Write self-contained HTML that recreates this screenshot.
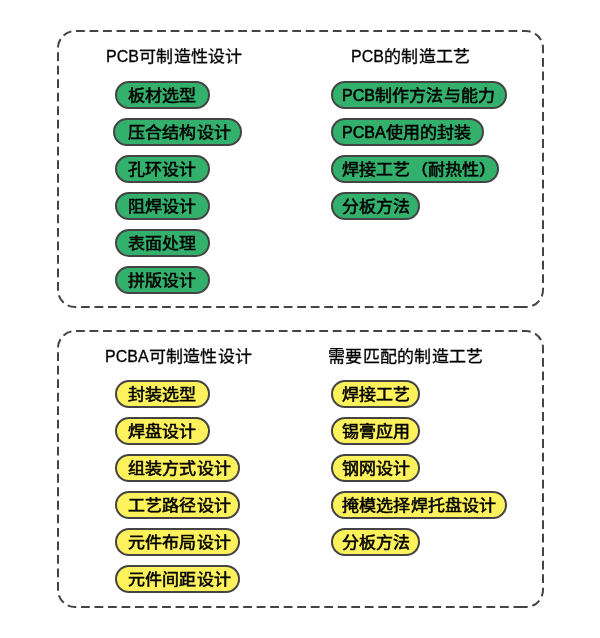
<!DOCTYPE html>
<html lang="zh-CN"><head><meta charset="utf-8">
<style>
html,body{margin:0;padding:0;background:#fff;width:600px;height:638px;overflow:hidden}
body{position:relative;font-family:"Liberation Sans",sans-serif;color:#000}
.t,.h{will-change:transform}
svg.bg{position:absolute;left:0;top:0}
.p{position:absolute;box-sizing:border-box;height:28px;border:2px solid #444;border-radius:14px}
.t,.h{position:absolute;font-size:17px;line-height:20px;white-space:nowrap;color:#000}
.t{-webkit-text-stroke:0.6px #000;font-weight:normal}
.h{-webkit-text-stroke:0.3px #000}
.l{font-size:16px}
.h .c{letter-spacing:0.3px;transform:scaleY(0.96)}
.c{display:inline-block;letter-spacing:0.16px;transform:scaleY(0.93);transform-origin:0 15px}
</style></head><body>
<svg class="bg" width="600" height="638" viewBox="0 0 600 638">
<path d="M522.25 307H75A17 17 0 0 1 58 290V48A17 17 0 0 1 75 31H526A17 17 0 0 1 543 48V290A17 17 0 0 1 526 307Z" fill="none" stroke="#444" stroke-width="2" stroke-dasharray="8.8 4.715"/>
<path d="M522.25 607H75A17 17 0 0 1 58 590V348A17 17 0 0 1 75 331H526A17 17 0 0 1 543 348V590A17 17 0 0 1 526 607Z" fill="none" stroke="#444" stroke-width="2" stroke-dasharray="8.8 4.715"/>
</svg>

<div class="h" style="left:106px;top:46.8px"><span class="l">PCB</span><span class="c">可制造性设计</span></div>
<div class="h" style="left:351px;top:46.8px"><span class="l">PCB</span><span class="c">的制造工艺</span></div>
<div class="h" style="left:105px;top:346.8px"><span class="l">PCBA</span><span class="c">可制造性设计</span></div>
<div class="h" style="left:327.5px;top:346.8px"><span class="c">需要匹配的制造工艺</span></div>
<div class="p" style="left:115.1px;top:80.8px;width:94.9px;background:#34b06d"></div>
<div class="t" style="left:127.8px;top:85.8px"><span class="c">板材选型</span></div>
<div class="p" style="left:113.4px;top:117.8px;width:129.0px;background:#34b06d"></div>
<div class="t" style="left:127.8px;top:122.8px"><span class="c">压合结构设计</span></div>
<div class="p" style="left:115.1px;top:154.8px;width:94.6px;background:#34b06d"></div>
<div class="t" style="left:127.8px;top:159.8px"><span class="c">孔环设计</span></div>
<div class="p" style="left:115.1px;top:191.8px;width:94.6px;background:#34b06d"></div>
<div class="t" style="left:127.8px;top:196.8px"><span class="c">阻焊设计</span></div>
<div class="p" style="left:115.1px;top:228.8px;width:94.6px;background:#34b06d"></div>
<div class="t" style="left:127.8px;top:233.8px"><span class="c">表面处理</span></div>
<div class="p" style="left:115.1px;top:265.8px;width:94.6px;background:#34b06d"></div>
<div class="t" style="left:127.8px;top:270.8px"><span class="c">拼版设计</span></div>
<div class="p" style="left:330.9px;top:80.8px;width:176.3px;background:#34b06d"></div>
<div class="t" style="left:341.5px;top:85.8px"><span class="l">PCB</span><span class="c">制作方法与能力</span></div>
<div class="p" style="left:330.9px;top:117.8px;width:153.2px;background:#34b06d"></div>
<div class="t" style="left:341.5px;top:122.8px"><span class="l">PCBA</span><span class="c">使用的封装</span></div>
<div class="p" style="left:330.9px;top:154.8px;width:168.5px;background:#34b06d"></div>
<div class="t" style="left:341.5px;top:159.8px"><span class="c">焊接工艺（耐热性）</span></div>
<div class="p" style="left:330.9px;top:191.8px;width:88.9px;background:#34b06d"></div>
<div class="t" style="left:341.5px;top:196.8px"><span class="c">分板方法</span></div>
<div class="p" style="left:115.1px;top:379.8px;width:94.9px;background:#fef25c"></div>
<div class="t" style="left:127.8px;top:384.8px"><span class="c">封装选型</span></div>
<div class="p" style="left:115.1px;top:416.8px;width:94.6px;background:#fef25c"></div>
<div class="t" style="left:127.8px;top:421.8px"><span class="c">焊盘设计</span></div>
<div class="p" style="left:115.1px;top:453.8px;width:125.4px;background:#fef25c"></div>
<div class="t" style="left:127.8px;top:458.8px"><span class="c">组装方式设计</span></div>
<div class="p" style="left:115.1px;top:490.8px;width:125.4px;background:#fef25c"></div>
<div class="t" style="left:127.8px;top:495.8px"><span class="c">工艺路径设计</span></div>
<div class="p" style="left:115.1px;top:527.8px;width:125.4px;background:#fef25c"></div>
<div class="t" style="left:127.8px;top:532.8px"><span class="c">元件布局设计</span></div>
<div class="p" style="left:115.1px;top:564.8px;width:125.4px;background:#fef25c"></div>
<div class="t" style="left:127.8px;top:569.8px"><span class="c">元件间距设计</span></div>
<div class="p" style="left:330.9px;top:379.8px;width:89.3px;background:#fef25c"></div>
<div class="t" style="left:341.5px;top:384.8px"><span class="c">焊接工艺</span></div>
<div class="p" style="left:330.9px;top:416.8px;width:89.3px;background:#fef25c"></div>
<div class="t" style="left:341.5px;top:421.8px"><span class="c">锡膏应用</span></div>
<div class="p" style="left:330.9px;top:453.8px;width:89.3px;background:#fef25c"></div>
<div class="t" style="left:341.5px;top:458.8px"><span class="c">钢网设计</span></div>
<div class="p" style="left:330.9px;top:490.8px;width:176.3px;background:#fef25c"></div>
<div class="t" style="left:341.5px;top:495.8px"><span class="c">掩模选择焊托盘设计</span></div>
<div class="p" style="left:330.9px;top:527.8px;width:89.3px;background:#fef25c"></div>
<div class="t" style="left:341.5px;top:532.8px"><span class="c">分板方法</span></div>
</body></html>
